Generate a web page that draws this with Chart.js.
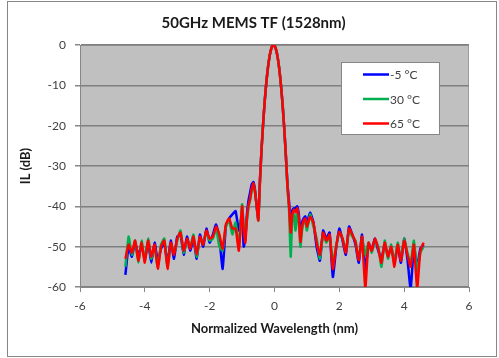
<!DOCTYPE html>
<html>
<head>
<meta charset="utf-8">
<script src="https://cdn.jsdelivr.net/npm/chart.js@4.4.1/dist/chart.umd.min.js"></script>
<style>
  html, body { margin: 0; padding: 0; background: #ffffff; }
  #wrap { position: relative; width: 499px; height: 358px; }
  #frame { position: absolute; left: 7px; top: 1px; width: 490px; height: 356px; box-sizing: border-box; border: 1px solid #868686; pointer-events: none; }
  canvas { position: absolute; left: 0; top: 0; }
</style>
</head>
<body>
<div id="wrap">
  <canvas id="c" width="499" height="358"></canvas>
  <div id="frame"></div>
</div>
<script>
const chartTitle = "50GHz MEMS TF (1528nm)";
const xTitle = "Normalized Wavelength (nm)";
const yTitle = "IL (dB)";
const seriesNames = ["-5 °C", "30 °C", "65 °C"];
const seriesColors = ["#0000ff", "#00b050", "#ff0000"];

const wavelength = [
  -4.6,-4.5,-4.4,-4.3,-4.2,-4.1,-4.0,-3.9,-3.8,-3.7,-3.6,-3.5,-3.4,-3.3,-3.2,-3.1,-3.0,-2.9,-2.8,-2.7,-2.6,-2.5,-2.4,-2.3,-2.2,-2.1,-2.0,-1.9,-1.8,-1.7,-1.6,-1.5,-1.4,-1.3,-1.2,-1.1,-1.0,
  -0.95,-0.9,-0.85,-0.8,-0.75,-0.7,-0.65,-0.6,-0.55,-0.5,-0.45,-0.4,-0.35,-0.3,-0.25,-0.2,-0.15,-0.1,-0.05,0,0.05,0.1,0.15,0.2,0.25,0.3,0.35,0.4,0.45,0.5,0.55,0.6,0.65,0.7,0.75,0.8,0.85,0.9,0.95,
  1.0,1.1,1.2,1.3,1.4,1.5,1.6,1.7,1.8,1.9,2.0,2.1,2.2,2.3,2.4,2.5,2.6,2.7,2.8,2.9,3.0,3.1,3.2,3.3,3.4,3.5,3.6,3.7,3.8,3.9,4.0,4.1,4.2,4.3,4.4,4.5,4.6
];

const ilMinus5 = [
  -57,-50,-52.5,-49,-52,-50,-53,-49,-54,-49,-53.5,-50.5,-49,-54,-48.5,-53,-47.5,-47,-52,-47.5,-51,-48,-53,-47,-50,-45.5,-49,-47,-44.5,-48,-55.5,-45,-43,-42,-41.2,-46,-42,
  -50,-48,-42,-38.5,-36.5,-34.5,-34,-36,-40,-43,-33.5,-25.9,-19.4,-13.8,-9.1,-5.5,-2.7,-0.9,-0.08,-0.17,-1.2,-3.2,-6.1,-10,-14.8,-20.6,-27.3,-34.5,-39,-44,-41,-40.5,-40.5,-40,-42,-47,-44,-43,-42.5,
  -44,-41.5,-44,-50,-53.5,-46,-48,-46.5,-57.5,-50.5,-45.5,-48.5,-52,-45,-47,-49.5,-54,-47,-56,-49.5,-50.5,-48,-51,-53,-49.5,-52,-50.5,-53.5,-50,-54,-48,-53,-60.5,-50,-55,-50.5,-49.5
];

const il30 = [
  -55,-47.5,-52,-48.5,-54,-48.5,-53.5,-48,-53,-50,-55,-49.5,-48,-55,-49.5,-51.5,-48.5,-46,-51.5,-48.5,-50,-47,-52.5,-48,-49,-46.5,-48.5,-48,-45.5,-50,-51,-45,-43.5,-47,-44,-50,-39.5,
  -45,-47,-43.5,-40,-38.5,-36,-34.5,-36.5,-40,-43.5,-34.5,-25.9,-19.4,-13.8,-9.1,-5.5,-2.7,-0.9,-0.08,-0.17,-1.2,-3.2,-6.1,-10,-14.8,-20.6,-27.3,-35.5,-41,-52.5,-43,-42,-46,-41,-44,-50,-46,-44,-43.5,
  -46,-42,-45,-48,-53,-47,-49,-47.5,-54,-50,-46.5,-48,-51,-46,-47.5,-48.5,-53,-48,-52,-49,-51.5,-48.5,-50,-55,-48.5,-53,-49.5,-54,-49,-53,-48,-51.5,-54,-48.5,-56,-51.5,-50
];

const il65 = [
  -53,-49.5,-51.5,-48.5,-53.5,-49,-54,-48.5,-52.5,-49.5,-55.5,-50,-48.5,-55.5,-49,-52,-48,-46.5,-51,-48,-50.5,-47.5,-52,-47.5,-49.5,-46,-48,-47.5,-45,-47,-50.5,-44.5,-43,-45.5,-45.5,-51,-40,
  -46,-49,-43,-39.7,-38,-35.5,-34.3,-36.5,-40,-43.5,-34,-25.9,-19.4,-13.8,-9.1,-5.5,-2.7,-0.9,-0.08,-0.17,-1.2,-3.2,-6.1,-10,-14.8,-20.6,-27.3,-35,-40,-46.5,-42,-40.8,-41.5,-40.5,-43,-48.8,-45,-43.5,-43,
  -45,-42.6,-44,-49,-52,-46.5,-48.5,-47,-55.5,-50,-46.3,-48,-51.5,-45.5,-47,-49,-53.3,-47.5,-60.5,-49,-51,-48,-50.5,-54,-49,-52.5,-50,-55,-49.5,-53.5,-48.5,-52,-55,-49.5,-60.5,-51,-49
];

const xMin = -6, xMax = 6, xStep = 2;
const yMin = -60, yMax = 0, yStep = 10;

const seriesValues = [ilMinus5, il30, il65];
const datasets = seriesValues.map((vals, i) => ({
  label: seriesNames[i],
  data: wavelength.map((w, k) => ({ x: w, y: vals[k] })),
  borderColor: seriesColors[i],
  backgroundColor: seriesColors[i],
  borderWidth: 2.5,
  pointRadius: 0,
  tension: 0.15,
  fill: false,
  order: seriesValues.length - i
}));

const FONT = "Lato, 'Open Sans', 'DejaVu Sans', sans-serif";
const TEXT = "#404040";

const plotBg = {
  id: 'plotBg',
  beforeDraw(chart) {
    const { ctx, chartArea: a } = chart;
    ctx.save();
    ctx.fillStyle = '#c0c0c0';
    ctx.fillRect(a.left, a.top, a.right - a.left, a.bottom - a.top);
    ctx.strokeStyle = '#9a9a9a';
    ctx.lineWidth = 1;
    ctx.beginPath();
    ctx.moveTo(a.left, a.top + 0.5);
    ctx.lineTo(a.right - 0.5, a.top + 0.5);
    ctx.lineTo(a.right - 0.5, a.bottom);
    ctx.stroke();
    ctx.restore();
  }
};

const boxLegend = {
  id: 'boxLegend',
  afterDatasetsDraw(chart) {
    const { ctx, chartArea: a } = chart;
    const left = a.right - 128, top = a.top + 17, w = 99, h = 73;
    ctx.save();
    ctx.fillStyle = '#ffffff';
    ctx.fillRect(left, top, w, h);
    ctx.strokeStyle = '#868686';
    ctx.lineWidth = 1;
    ctx.strokeRect(left + 0.5, top + 0.5, w - 1, h - 1);
    ctx.font = "12px " + FONT;
    ctx.textBaseline = 'middle';
    ctx.textAlign = 'left';
    chart.data.datasets.forEach((ds, i) => {
      const y = top + 12.5 + i * 24.5;
      ctx.strokeStyle = ds.borderColor;
      ctx.lineWidth = 2.5;
      ctx.beginPath();
      ctx.moveTo(left + 22, y);
      ctx.lineTo(left + 48, y);
      ctx.stroke();
      ctx.fillStyle = TEXT;
      ctx.fillText(ds.label, left + 49, y + 1);
    });
    ctx.restore();
  }
};

new Chart(document.getElementById('c'), {
  type: 'line',
  data: { datasets },
  options: {
    responsive: false,
    animation: false,
    layout: { padding: { left: 18, right: 10, top: 0, bottom: 0 } },
    plugins: {
      legend: { display: false },
      tooltip: { enabled: false },
      title: {
        display: true,
        text: chartTitle,
        color: '#1a1a1a',
        font: { family: FONT, size: 15, weight: 'bold', lineHeight: 1.2 },
        padding: { top: 14, bottom: 13 }
      }
    },
    scales: {
      x: {
        type: 'linear',
        min: xMin, max: xMax,
        ticks: { stepSize: xStep, color: TEXT, font: { family: FONT, size: 12 }, padding: 7, maxRotation: 0 },
        grid: { drawOnChartArea: false, drawTicks: true, tickLength: 5, color: '#868686' },
        border: { display: true, color: '#868686', width: 1 },
        title: { display: true, text: xTitle, color: '#1a1a1a', font: { family: FONT, size: 13, weight: 'bold', lineHeight: 1.2 }, padding: { top: 0, bottom: 21 } },
        afterFit(scale) { scale.height = 71; scale.paddingRight = 30; }
      },
      y: {
        type: 'linear',
        min: yMin, max: yMax,
        ticks: { stepSize: yStep, color: TEXT, font: { family: FONT, size: 12 }, padding: 9 },
        grid: { color: '#7f7f7f', lineWidth: 1.5, drawTicks: true, tickLength: 5, tickColor: '#868686' },
        border: { display: true, color: '#868686', width: 1 },
        title: { display: true, text: yTitle, color: '#1a1a1a', font: { family: FONT, size: 13, weight: 'bold', lineHeight: 1.2 }, padding: { top: 0, bottom: 0 } },
        afterFit(scale) { scale.width = 62; }
      }
    }
  },
  plugins: [plotBg, boxLegend]
});
</script>
</body>
</html>
